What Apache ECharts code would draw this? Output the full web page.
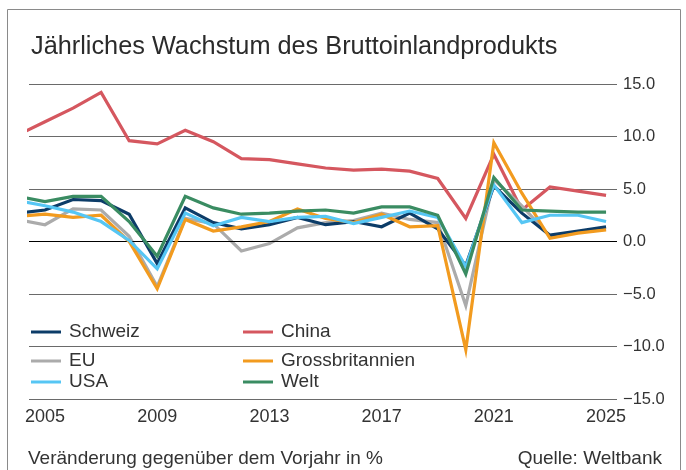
<!DOCTYPE html>
<html>
<head>
<meta charset="utf-8">
<script src="https://cdn.jsdelivr.net/npm/echarts@6/dist/echarts.min.js"></script>
<style>
html,body{margin:0;padding:0;background:#fff;}
#c{width:686px;height:470px;}
</style>
</head>
<body>
<div id="c"></div>
<script>
const years = [2004,2005,2006,2007,2008,2009,2010,2011,2012,2013,2014,2015,2016,2017,2018,2019,2020,2021,2022,2023,2024,2025];
const xTickLabels = [2005,2009,2013,2017,2021,2025];
const yTicks = [-15,-10,-5,0,5,10,15];

const schweiz = [2.7,3.0,4.0,3.9,2.6,-2.1,3.2,1.8,1.2,1.6,2.3,1.6,1.9,1.4,2.7,1.2,-2.3,5.3,2.7,0.6,1.0,1.4];
const china = [10.1,11.4,12.7,14.2,9.6,9.3,10.6,9.5,7.9,7.8,7.4,7.0,6.8,6.9,6.7,6.0,2.2,8.3,3.0,5.2,4.8,4.4];
const eu = [2.1,1.6,3.1,3.0,0.5,-4.3,2.2,1.7,-0.9,-0.2,1.3,1.8,2.0,2.7,2.1,1.8,-6.1,5.9,3.4,0.5,0.9,1.2];
const gb = [2.4,2.6,2.3,2.5,0.0,-4.5,2.1,1.0,1.4,1.9,3.1,2.2,1.8,2.6,1.4,1.5,-10.3,9.4,4.6,0.3,0.8,1.1];
const usa = [3.9,3.4,2.8,1.9,0.1,-2.6,2.7,1.5,2.3,1.9,2.3,2.4,1.7,2.3,2.9,2.3,-2.4,5.4,1.8,2.5,2.5,1.9];
const welt = [4.3,3.8,4.3,4.3,1.9,-1.4,4.3,3.2,2.6,2.7,2.9,3.0,2.7,3.3,3.3,2.5,-3.1,6.1,3.0,2.9,2.8,2.8];

const seriesNames = ['Schweiz','China','EU','Grossbritannien','USA','Welt'];
const seriesColors = {
  'Schweiz':'#0c3c68','China':'#d5575f','EU':'#ababab',
  'Grossbritannien':'#f29b1f','USA':'#56c6f4','Welt':'#3a8c62'
};
const seriesValues = {
  'Schweiz':schweiz,'China':china,'EU':eu,'Grossbritannien':gb,'USA':usa,'Welt':welt
};
const drawOrder = ['China','EU','Schweiz','Grossbritannien','USA','Welt'];

const FONT = '"Liberation Sans", Arial, sans-serif';

function pairs(vals){ return years.map((y,i)=>[y, vals[i]]); }

const series = drawOrder.map((name, idx) => {
  const s = {
    name: name,
    type: 'line',
    data: pairs(seriesValues[name]),
    showSymbol: false,
    symbol: 'none',
    clip: true,
    lineStyle: {width: 3.2, color: seriesColors[name], join: 'miter'},
    itemStyle: {color: seriesColors[name]},
    z: 3 + idx,
    animation: false
  };
  if (idx === 0) {
    s.markLine = {
      silent: true,
      symbol: ['none','none'],
      label: {show: false},
      lineStyle: {color: '#000', width: 1, type: 'solid'},
      data: [{yAxis: 0}],
      animation: false
    };
  }
  return s;
});

// legend layout: one legend per item
const legendPos = {
  'Schweiz':[31,332], 'China':[243,332],
  'EU':[31,361], 'Grossbritannien':[243,361],
  'USA':[31,382], 'Welt':[243,382]
};
const legends = seriesNames.map(name => ({
  data: [name],
  left: legendPos[name][0],
  top: legendPos[name][1] - 10,
  padding: 0,
  itemWidth: 30,
  itemHeight: 3,
  itemGap: 8,
  icon: 'rect',
  selectedMode: false,
  textStyle: {fontFamily: FONT, fontSize: 19, color: '#333', lineHeight: 20, padding: [0,0,0,3]},
  itemStyle: {borderWidth: 0}
}));

const chart = echarts.init(document.getElementById('c'), null, {renderer: 'canvas'});
chart.setOption({
  animation: false,
  backgroundColor: '#fff',
  title: {
    text: 'Jährliches Wachstum des Bruttoinlandprodukts',
    left: 31, top: 35, padding: 0,
    textStyle: {fontFamily: FONT, fontSize: 25.3, fontWeight: 'normal', color: '#2b2b2b'}
  },
  legend: legends,
  grid: {left: 29, right: 69, top: 84, bottom: 71, containLabel: false},
  xAxis: {
    type: 'value',
    min: 2004.43,
    max: 2025.39,
    axisLine: {show: false},
    axisTick: {show: false},
    splitLine: {show: false},
    axisLabel: {
      customValues: xTickLabels,
      fontFamily: FONT, fontSize: 18, color: '#333', margin: 9,
      formatter: v => String(Math.round(v))
    }
  },
  yAxis: {
    type: 'value',
    position: 'right',
    min: yTicks[0], max: yTicks[yTicks.length-1], interval: 5,
    axisLine: {show: false},
    axisTick: {show: false},
    splitLine: {show: true, lineStyle: {color: '#6a6a6a', width: 1}},
    axisLabel: {
      fontFamily: FONT, fontSize: 16.5, color: '#333', margin: 6,
      formatter: v => (v < 0 ? '\u2212' : '') + Math.abs(v).toFixed(1)
    }
  },
  graphic: [
    {type: 'rect', shape: {x: 7.5, y: 9.5, width: 673, height: 480},
     style: {fill: 'none', stroke: '#8a8a8a', lineWidth: 1}, silent: true, z: 0},
    {type: 'text', left: 28, top: 449,
     style: {text: 'Veränderung gegenüber dem Vorjahr in %', font: '19px ' + FONT, fill: '#333'}},
    {type: 'text', right: 24, top: 449,
     style: {text: 'Quelle: Weltbank', font: '19px ' + FONT, fill: '#333', textAlign: 'right'}}
  ],
  series: series
});
</script>
</body>
</html>
